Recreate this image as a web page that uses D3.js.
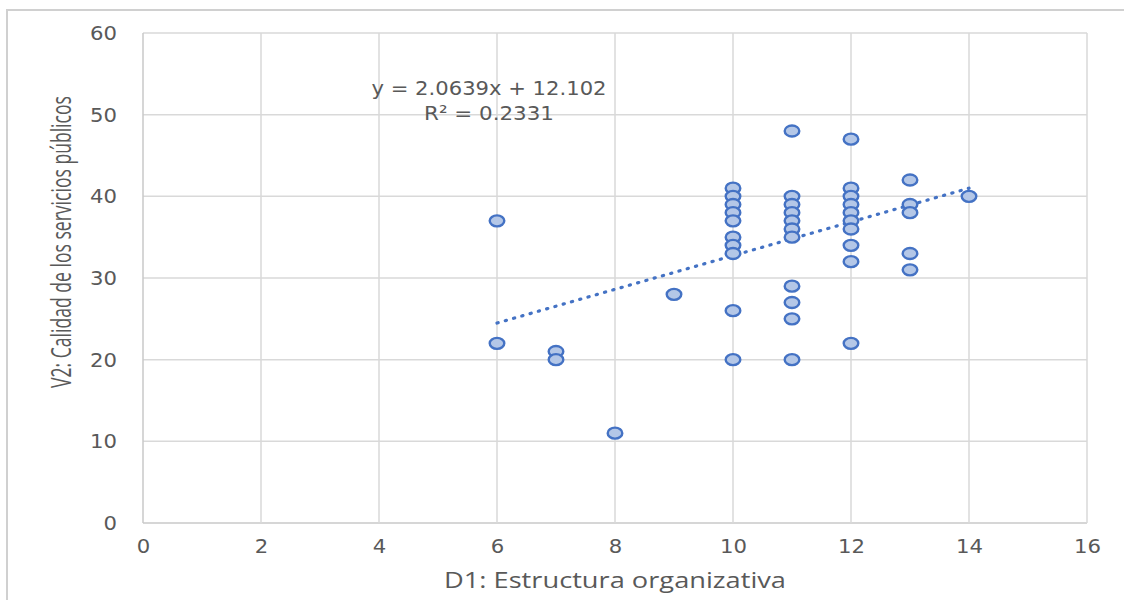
<!DOCTYPE html>
<html>
<head>
<meta charset="utf-8">
<script src="https://cdn.jsdelivr.net/npm/d3@7"></script>
<style>
  html, body { margin: 0; padding: 0; background: #fff; }
  svg { display: block; }
</style>
</head>
<body>
<svg id="chart" width="1124" height="600"></svg>
<script>
// ---- data ----
const xValues = [6, 6, 7, 7, 8, 9,
  10, 10, 10, 10, 10, 10, 10, 10, 10, 10,
  11, 11, 11, 11, 11, 11, 11, 11, 11, 11, 11,
  12, 12, 12, 12, 12, 12, 12, 12, 12, 12,
  13, 13, 13, 13, 13,
  14];
const yValues = [37, 22, 21, 20, 11, 28,
  41, 40, 39, 38, 37, 35, 34, 33, 26, 20,
  48, 40, 39, 38, 37, 36, 35, 29, 27, 25, 20,
  47, 41, 40, 39, 38, 37, 36, 34, 32, 22,
  42, 39, 38, 33, 31,
  40];
const trendSlope = 2.0639;
const trendIntercept = 12.102;
const trendRange = [6, 14];
const equationLines = ["y = 2.0639x + 12.102", "R² = 0.2331"];
const xTicks = [0, 2, 4, 6, 8, 10, 12, 14, 16];
const yTicks = [0, 10, 20, 30, 40, 50, 60];
const xTitle = "D1: Estructura organizativa";
const yTitle = "V2: Calidad de los servicios públicos";

// ---- layout ----
const svg = d3.select("#chart");
const plot = { left: 143, right: 1087, top: 33, bottom: 523 };
const x = d3.scaleLinear().domain([0, 16]).range([plot.left, plot.right]);
const y = d3.scaleLinear().domain([0, 60]).range([plot.bottom, plot.top]);

// outer chart frame (partially visible)
svg.append("line").attr("x1", 6).attr("x2", 1124).attr("y1", 10).attr("y2", 10)
  .attr("stroke", "#d0d0d0").attr("stroke-width", 2);
svg.append("line").attr("x1", 7).attr("x2", 7).attr("y1", 10).attr("y2", 600)
  .attr("stroke", "#d0d0d0").attr("stroke-width", 2);

// gridlines
const grid = svg.append("g");
grid.selectAll("line.h").data(yTicks).join("line")
  .attr("x1", plot.left).attr("x2", plot.right)
  .attr("y1", d => y(d)).attr("y2", d => y(d))
  .attr("stroke", d => d === 0 ? "#c8c8c8" : "#d9d9d9").attr("stroke-width", 1.5);
grid.selectAll("line.v").data(xTicks).join("line")
  .attr("y1", plot.top).attr("y2", plot.bottom)
  .attr("x1", d => x(d)).attr("x2", d => x(d))
  .attr("stroke", d => d === 0 ? "#c8c8c8" : "#d9d9d9").attr("stroke-width", 1.5);

// axes (labels only)
const yAxis = svg.append("g").attr("transform", `translate(${plot.left},0)`)
  .call(d3.axisLeft(y).tickValues(yTicks).tickSize(0).tickPadding(26));
const xAxis = svg.append("g").attr("transform", `translate(0,${plot.bottom})`)
  .call(d3.axisBottom(x).tickValues(xTicks).tickSize(0).tickPadding(16));
[yAxis, xAxis].forEach(a => {
  a.select(".domain").remove();
  a.selectAll("text").attr("fill", "#595959")
    .attr("textLength", d => String(d).length * 13.5).attr("lengthAdjust", "spacingAndGlyphs")
    .style("font-family", "'DejaVu Sans', sans-serif").style("font-size", "20px");
});

// trendline
const trendData = trendRange.map(v => [v, trendSlope * v + trendIntercept]);
svg.append("path")
  .attr("d", d3.line().x(d => x(d[0])).y(d => y(d[1]))(trendData))
  .attr("fill", "none").attr("stroke", "#4472c4").attr("stroke-width", 3.2)
  .attr("stroke-linecap", "round").attr("stroke-dasharray", "1.2 7.4");

// points
svg.append("g").selectAll("ellipse").data(xValues.map((v, i) => [v, yValues[i]])).join("ellipse")
  .attr("cx", d => x(d[0])).attr("cy", d => y(d[1]))
  .attr("rx", 7.3).attr("ry", 5.5)
  .attr("fill", "#b4c7e7").attr("stroke", "#4472c4").attr("stroke-width", 2.4);

// equation label
svg.append("g").selectAll("text").data(equationLines).join("text")
  .attr("x", 489).attr("y", (d, i) => 88 + i * 25)
  .attr("text-anchor", "middle").attr("dominant-baseline", "central")
  .attr("fill", "#595959")
  .attr("textLength", (d, i) => i === 0 ? 235 : 130).attr("lengthAdjust", "spacingAndGlyphs")
  .style("font-family", "'DejaVu Sans', sans-serif").style("font-size", "20px")
  .text(d => d);

// axis titles
svg.append("text")
  .attr("x", 615).attr("y", 580)
  .attr("text-anchor", "middle").attr("dominant-baseline", "central")
  .attr("fill", "#595959")
  .attr("textLength", 342).attr("lengthAdjust", "spacingAndGlyphs")
  .style("font-family", "'Open Sans', sans-serif").style("font-size", "21px")
  .text(xTitle);
const yt = svg.append("text")
  .attr("text-anchor", "middle").attr("dominant-baseline", "central")
  .attr("fill", "#595959")
  .style("font-family", "'Open Sans', sans-serif").style("font-size", "27px")
  .text(yTitle);
const natural = yt.node().getComputedTextLength();
yt.attr("transform", `translate(61,242) rotate(-90) scale(${292 / natural},1)`);
</script>
</body>
</html>
